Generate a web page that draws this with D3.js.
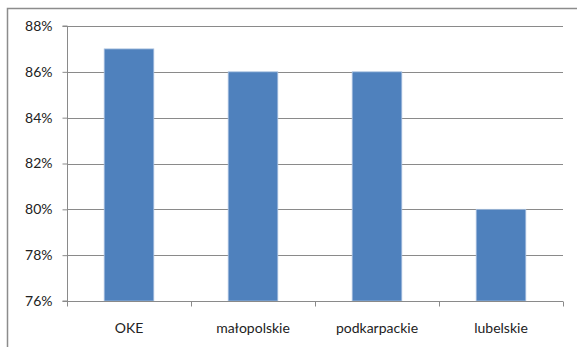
<!DOCTYPE html>
<html>
<head>
<meta charset="utf-8">
<script src="https://cdn.jsdelivr.net/npm/d3@7"></script>
<style>
  html, body { margin: 0; padding: 0; background: #fff; }
  svg { display: block; }
  text { font-family: Lato, "Open Sans", sans-serif; font-size: 14px; fill: #222; }
</style>
</head>
<body>
<svg id="chart" width="577" height="347"></svg>
<script>
const categories = ["OKE", "małopolskie", "podkarpackie", "lubelskie"];
const values = [0.87, 0.86, 0.86, 0.80];
const yTicks = [0.76, 0.78, 0.80, 0.82, 0.84, 0.86, 0.88];

const svg = d3.select("#chart");
const W = 577, H = 347;
const margin = { left: 67, right: 14, top: 26, bottom: 46 };

// chart frame
svg.append("rect")
  .attr("x", 7.5).attr("y", 8.5)
  .attr("width", W).attr("height", H)
  .attr("fill", "none").attr("stroke", "#8c8c8c").attr("stroke-width", 1.5);

const x = d3.scaleBand()
  .domain(categories)
  .range([margin.left, W - margin.right])
  .paddingInner(0.6).paddingOuter(0.3);

const y = d3.scaleLinear()
  .domain([0.76, 0.88])
  .range([H - margin.bottom, margin.top]);

// horizontal gridlines
svg.append("g")
  .selectAll("line")
  .data(yTicks)
  .join("line")
  .attr("x1", margin.left).attr("x2", W - margin.right)
  .attr("y1", d => Math.round(y(d)) + 0.5).attr("y2", d => Math.round(y(d)) + 0.5)
  .attr("stroke", "#8a8a8a").attr("stroke-width", 1);

// bars
svg.append("g")
  .selectAll("rect")
  .data(categories.map((c, i) => ({ c, v: values[i] })))
  .join("rect")
  .attr("x", d => x(d.c))
  .attr("width", x.bandwidth())
  .attr("y", d => y(d.v))
  .attr("height", d => y(0.76) - y(d.v))
  .attr("fill", "#4f81bd")
  .attr("stroke", "#a8c0df").attr("stroke-width", 0.8);

// y axis
const yAxis = d3.axisLeft(y)
  .tickValues(yTicks)
  .tickFormat(d3.format(".0%"))
  .tickSize(5).tickPadding(10);
const gy = svg.append("g")
  .attr("transform", `translate(${margin.left + 0.5},0)`)
  .call(yAxis);
gy.selectAll("path, line").attr("stroke", "#8a8a8a");
gy.select(".domain").attr("d", `M-5,${y(0.88)}H0V${y(0.76)}H-5`).attr("stroke-width", 1);
gy.selectAll("text").style("font-family", "Lato, 'Open Sans', sans-serif").style("font-size", "14px").attr("fill", "#222");

// x axis with ticks on category boundaries
const gx = svg.append("g")
  .attr("transform", `translate(0,${Math.round(y(0.76)) + 0.5})`);
gx.append("line")
  .attr("x1", margin.left).attr("x2", W - margin.right)
  .attr("stroke", "#8a8a8a");
const step = (W - margin.right - margin.left) / categories.length;
gx.selectAll("line.tick")
  .data(d3.range(categories.length + 1))
  .join("line")
  .attr("class", "tick")
  .attr("x1", i => Math.round(margin.left + i * step) + 0.5)
  .attr("x2", i => Math.round(margin.left + i * step) + 0.5)
  .attr("y1", 0).attr("y2", 5)
  .attr("stroke", "#8a8a8a");
gx.selectAll("text")
  .data(categories)
  .join("text")
  .attr("x", d => x(d) + x.bandwidth() / 2)
  .attr("y", 31)
  .attr("text-anchor", "middle")
  .text(d => d);
</script>
</body>
</html>
